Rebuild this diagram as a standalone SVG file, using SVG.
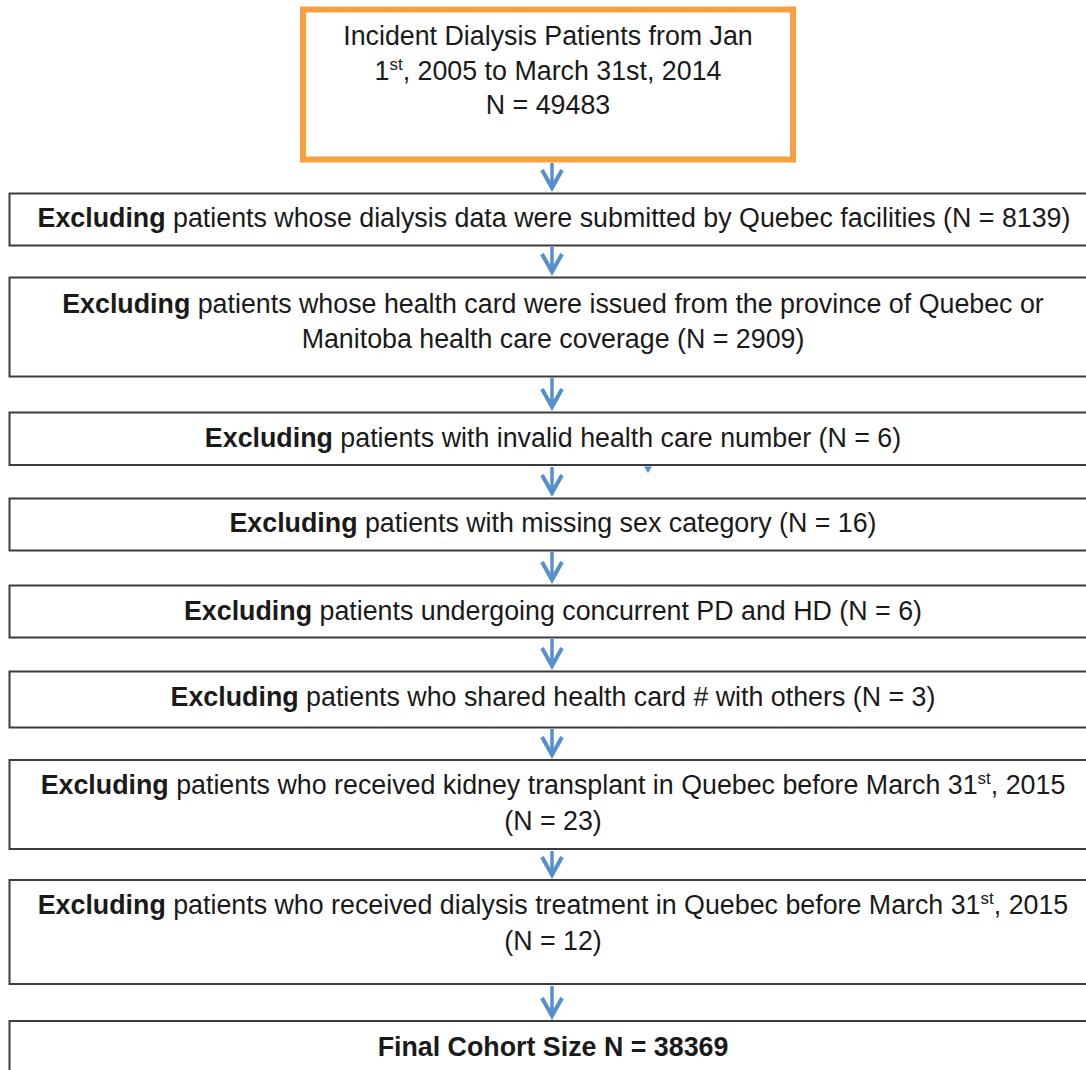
<svg xmlns="http://www.w3.org/2000/svg" width="1086" height="1070" viewBox="0 0 1086 1070">
<style>
  .bg { fill: #ffffff; }
  .box { fill: #ffffff; stroke: #3c3c3c; stroke-width: 2; }
  .start { fill: #ffffff; stroke: #F7A040; stroke-width: 6; }
  .t { font-family: "Liberation Sans", Arial, sans-serif; font-size: 26.8px; fill: #1a1a1a; text-anchor: middle; }
  .b { font-weight: bold; }
  .sup { font-size: 17px; }
  .conn { stroke: #5590CC; stroke-width: 3.5; fill: none; }
</style>
<defs>
  <marker id="chev" markerUnits="userSpaceOnUse" viewBox="0 0 24 26" markerWidth="24" markerHeight="26" refX="12" refY="20" orient="0" style="overflow:visible">
    <path d="M2,2 L12,20 L22,2" fill="none" stroke="#5590CC" stroke-width="4" stroke-linejoin="miter"/>
  </marker>
</defs>
<rect class="bg" x="0" y="0" width="1086" height="1070"/>

<g id="connectors">
  <line class="conn" x1="552" y1="163" x2="552" y2="188" marker-end="url(#chev)"/>
  <line class="conn" x1="552" y1="247" x2="552" y2="272" marker-end="url(#chev)"/>
  <line class="conn" x1="552" y1="378" x2="552" y2="407" marker-end="url(#chev)"/>
  <line class="conn" x1="552" y1="467" x2="552" y2="493" marker-end="url(#chev)"/>
  <line class="conn" x1="552" y1="552" x2="552" y2="580" marker-end="url(#chev)"/>
  <line class="conn" x1="552" y1="639" x2="552" y2="666" marker-end="url(#chev)"/>
  <line class="conn" x1="552" y1="729" x2="552" y2="755" marker-end="url(#chev)"/>
  <line class="conn" x1="552" y1="851" x2="552" y2="875" marker-end="url(#chev)"/>
  <line class="conn" x1="552" y1="986" x2="552" y2="1016" marker-end="url(#chev)"/>
  <polygon points="644,466.5 652,466.5 648,473" fill="#5590CC"/>
</g>

<g id="n1">
  <rect class="start" x="303" y="9.5" width="490" height="150"/>
  <text class="t" x="548" y="45">Incident Dialysis Patients from Jan</text>
  <text class="t" x="548" y="80">1<tspan class="sup" dy="-10">st</tspan><tspan dy="10">, 2005 to March 31st, 2014</tspan></text>
  <text class="t" x="548" y="114">N = 49483</text>
</g>

<g id="n2">
  <rect class="box" x="9.5" y="193.5" width="1090" height="52"/>
  <text class="t" x="554" y="227"><tspan class="b">Excluding</tspan> patients whose dialysis data were submitted by Quebec facilities (N = 8139)</text>
</g>

<g id="n3">
  <rect class="box" x="9.5" y="277.5" width="1090" height="99"/>
  <text class="t" x="553" y="313"><tspan class="b">Excluding</tspan> patients whose health card were issued from the province of Quebec or</text>
  <text class="t" x="553" y="348">Manitoba health care coverage (N = 2909)</text>
</g>

<g id="n4">
  <rect class="box" x="9.5" y="412.5" width="1090" height="52.5"/>
  <text class="t" x="553" y="447"><tspan class="b">Excluding</tspan> patients with invalid health care number (N = 6)</text>
</g>

<g id="n5">
  <rect class="box" x="9.5" y="498.5" width="1090" height="52"/>
  <text class="t" x="553" y="532"><tspan class="b">Excluding</tspan> patients with missing sex category (N = 16)</text>
</g>

<g id="n6">
  <rect class="box" x="9.5" y="585.5" width="1090" height="52"/>
  <text class="t" x="553" y="620"><tspan class="b">Excluding</tspan> patients undergoing concurrent PD and HD (N = 6)</text>
</g>

<g id="n7">
  <rect class="box" x="9.5" y="671.5" width="1090" height="56"/>
  <text class="t" x="553" y="706"><tspan class="b">Excluding</tspan> patients who shared health card # with others (N = 3)</text>
</g>

<g id="n8">
  <rect class="box" x="9.5" y="760" width="1090" height="89"/>
  <text class="t" x="553" y="794"><tspan class="b">Excluding</tspan> patients who received kidney transplant in Quebec before March 31<tspan class="sup" dy="-10">st</tspan><tspan dy="10">, 2015</tspan></text>
  <text class="t" x="553" y="830">(N = 23)</text>
</g>

<g id="n9">
  <rect class="box" x="9.5" y="880" width="1090" height="104"/>
  <text class="t" x="553" y="914"><tspan class="b">Excluding</tspan> patients who received dialysis treatment in Quebec before March 31<tspan class="sup" dy="-10">st</tspan><tspan dy="10">, 2015</tspan></text>
  <text class="t" x="553" y="950">(N = 12)</text>
</g>

<g id="n10">
  <rect class="box" x="9.5" y="1021" width="1090" height="80"/>
  <text class="t b" x="553" y="1056">Final Cohort Size N = 38369</text>
</g>
</svg>
